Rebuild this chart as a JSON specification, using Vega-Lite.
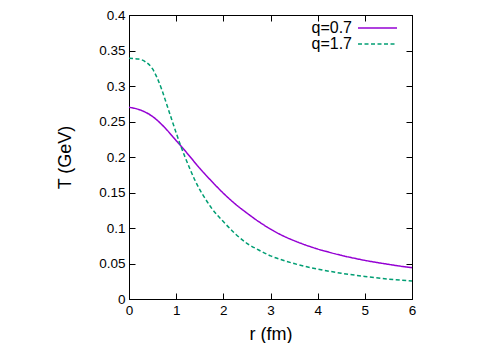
{
  "$schema": "https://vega.github.io/schema/vega-lite/v6.json",
  "width": 283,
  "height": 284,
  "autosize": {"type": "none"},
  "padding": {"left": 129, "top": 15, "right": 79, "bottom": 44},
  "background": "white",
  "config": {
    "font": "Liberation Sans",
    "view": {"stroke": "#000", "strokeWidth": 1},
    "axis": {
      "grid": false,
      "domainColor": "#000",
      "tickColor": "#000",
      "labelColor": "#000",
      "titleColor": "#000",
      "labelFont": "Liberation Sans",
      "titleFont": "Liberation Sans",
      "labelFontSize": 13.5,
      "titleFontSize": 18,
      "titleFontWeight": "normal",
      "tickSize": -6,
      "tickWidth": 1,
      "domainWidth": 1,
      "labelFlush": false
    },
    "legend": {
      "labelFont": "Liberation Sans",
      "labelFontSize": 16,
      "labelColor": "#000"
    }
  },
  "data": {
    "values": [
      {"r": 0, "T": 0.270, "series": "q=0.7"},
      {"r": 0.25, "T": 0.266, "series": "q=0.7"},
      {"r": 0.5, "T": 0.257, "series": "q=0.7"},
      {"r": 0.75, "T": 0.242, "series": "q=0.7"},
      {"r": 1.0, "T": 0.223, "series": "q=0.7"},
      {"r": 1.25, "T": 0.204, "series": "q=0.7"},
      {"r": 1.5, "T": 0.184, "series": "q=0.7"},
      {"r": 1.75, "T": 0.166, "series": "q=0.7"},
      {"r": 2.0, "T": 0.149, "series": "q=0.7"},
      {"r": 2.25, "T": 0.134, "series": "q=0.7"},
      {"r": 2.5, "T": 0.121, "series": "q=0.7"},
      {"r": 2.75, "T": 0.109, "series": "q=0.7"},
      {"r": 3.0, "T": 0.0985, "series": "q=0.7"},
      {"r": 3.25, "T": 0.0895, "series": "q=0.7"},
      {"r": 3.5, "T": 0.0822, "series": "q=0.7"},
      {"r": 3.75, "T": 0.0759, "series": "q=0.7"},
      {"r": 4.0, "T": 0.0704, "series": "q=0.7"},
      {"r": 4.25, "T": 0.0657, "series": "q=0.7"},
      {"r": 4.5, "T": 0.0615, "series": "q=0.7"},
      {"r": 4.75, "T": 0.0578, "series": "q=0.7"},
      {"r": 5.0, "T": 0.0544, "series": "q=0.7"},
      {"r": 5.25, "T": 0.0515, "series": "q=0.7"},
      {"r": 5.5, "T": 0.0488, "series": "q=0.7"},
      {"r": 5.75, "T": 0.0463, "series": "q=0.7"},
      {"r": 6.0, "T": 0.0441, "series": "q=0.7"},
      {"r": 0, "T": 0.339, "series": "q=1.7"},
      {"r": 0.2, "T": 0.338, "series": "q=1.7"},
      {"r": 0.35, "T": 0.334, "series": "q=1.7"},
      {"r": 0.5, "T": 0.324, "series": "q=1.7"},
      {"r": 0.6, "T": 0.311, "series": "q=1.7"},
      {"r": 0.7, "T": 0.294, "series": "q=1.7"},
      {"r": 0.8, "T": 0.274, "series": "q=1.7"},
      {"r": 0.9, "T": 0.254, "series": "q=1.7"},
      {"r": 1.0, "T": 0.234, "series": "q=1.7"},
      {"r": 1.1, "T": 0.215, "series": "q=1.7"},
      {"r": 1.2, "T": 0.198, "series": "q=1.7"},
      {"r": 1.3, "T": 0.182, "series": "q=1.7"},
      {"r": 1.4, "T": 0.167, "series": "q=1.7"},
      {"r": 1.5, "T": 0.154, "series": "q=1.7"},
      {"r": 1.6, "T": 0.143, "series": "q=1.7"},
      {"r": 1.75, "T": 0.128, "series": "q=1.7"},
      {"r": 2.0, "T": 0.109, "series": "q=1.7"},
      {"r": 2.25, "T": 0.092, "series": "q=1.7"},
      {"r": 2.5, "T": 0.0785, "series": "q=1.7"},
      {"r": 2.75, "T": 0.069, "series": "q=1.7"},
      {"r": 3.0, "T": 0.0608, "series": "q=1.7"},
      {"r": 3.25, "T": 0.0549, "series": "q=1.7"},
      {"r": 3.5, "T": 0.0499, "series": "q=1.7"},
      {"r": 3.75, "T": 0.0457, "series": "q=1.7"},
      {"r": 4.0, "T": 0.0422, "series": "q=1.7"},
      {"r": 4.5, "T": 0.0363, "series": "q=1.7"},
      {"r": 5.0, "T": 0.0318, "series": "q=1.7"},
      {"r": 5.5, "T": 0.0281, "series": "q=1.7"},
      {"r": 6.0, "T": 0.0253, "series": "q=1.7"}
    ]
  },
  "layer": [
    {
      "mark": {"type": "line", "strokeWidth": 1.5, "interpolate": "monotone"},
      "encoding": {
        "x": {
          "field": "r", "type": "quantitative",
          "scale": {"domain": [0, 6], "nice": false, "zero": false},
          "axis": {
            "orient": "bottom",
            "values": [0, 1, 2, 3, 4, 5, 6],
            "format": "d",
            "labelPadding": 10,
            "title": "r (fm)",
            "titleX": 141.5,
            "titleY": 40,
            "titleAlign": "center",
            "titleBaseline": "alphabetic"
          }
        },
        "y": {
          "field": "T", "type": "quantitative",
          "scale": {"domain": [0, 0.4], "nice": false},
          "axis": {
            "orient": "left",
            "values": [0, 0.05, 0.1, 0.15, 0.2, 0.25, 0.3, 0.35, 0.4],
            "format": "~g",
            "labelPadding": 10,
            "title": "T (GeV)",
            "titleX": -59,
            "titleY": 142,
            "titleAngle": -90,
            "titleAlign": "center",
            "titleBaseline": "alphabetic"
          }
        },
        "color": {
          "field": "series", "type": "nominal",
          "scale": {"domain": ["q=0.7", "q=1.7"], "range": ["#9400D3", "#009E73"]},
          "legend": {
            "orient": "none", "legendX": 240.5, "legendY": 5, "title": null,
            "padding": 0, "symbolType": "M-4,0H4", "symbolSize": 95, "symbolStrokeWidth": 1.5,
            "labelOffset": -33.5, "labelAlign": "right", "rowPadding": -4
          }
        },
        "strokeDash": {
          "field": "series", "type": "nominal",
          "scale": {"domain": ["q=0.7", "q=1.7"], "range": [[1, 0], [4, 2.5]]},
          "legend": {
            "orient": "none", "legendX": 240.5, "legendY": 5, "title": null,
            "padding": 0, "symbolType": "M-4,0H4", "symbolSize": 95, "symbolStrokeWidth": 1.5,
            "labelOffset": -33.5, "labelAlign": "right", "rowPadding": -4
          }
        }
      }
    },
    {
      "mark": {"type": "line", "opacity": 0},
      "encoding": {
        "x": {
          "field": "r", "type": "quantitative",
          "axis": {"orient": "top", "values": [0, 1, 2, 3, 4, 5, 6], "labels": false, "title": null}
        },
        "y": {
          "field": "T", "type": "quantitative",
          "axis": {"orient": "right", "values": [0, 0.05, 0.1, 0.15, 0.2, 0.25, 0.3, 0.35, 0.4], "labels": false, "title": null}
        },
        "detail": {"field": "series", "type": "nominal"}
      }
    }
  ],
  "resolve": {"axis": {"x": "independent", "y": "independent"}}
}
